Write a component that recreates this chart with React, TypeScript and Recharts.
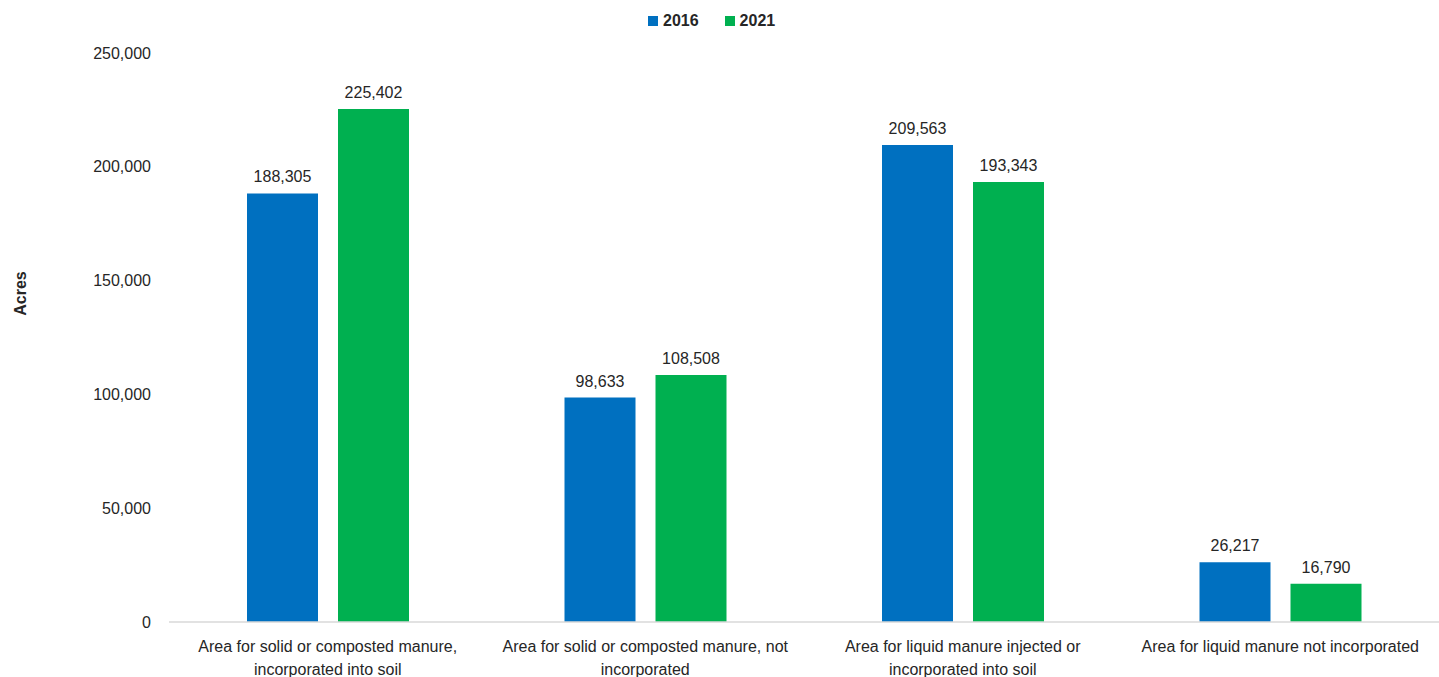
import React from 'react';
import { BarChart, Bar, XAxis, YAxis, Legend, LabelList, Text } from 'recharts';

const categories = [
  'Area for solid or composted manure, incorporated into soil',
  'Area for solid or composted manure, not incorporated',
  'Area for liquid manure injected or incorporated into soil',
  'Area for liquid manure not incorporated',
];
const values2016 = [188305, 98633, 209563, 26217];
const values2021 = [225402, 108508, 193343, 16790];
const yTicks = [0, 50000, 100000, 150000, 200000, 250000];

const data = categories.map((c, i) => ({ name: c, y2016: values2016[i], y2021: values2021[i] }));

const FONT = '"Liberation Sans", Arial, sans-serif';
const TEXT_COLOR = '#262626';
const BLUE = '#0070C0';
const GREEN = '#00B050';

const fmt = (v: number) => v.toLocaleString('en-US');

const CategoryTick = (props: any) => {
  const { x, y, payload } = props;
  return (
    <Text
      x={x}
      y={y}
      width={300}
      textAnchor="middle"
      verticalAnchor="start"
      lineHeight={23}
      style={{ fontSize: 16, fontFamily: FONT }}
      fontSize={16}
      fontFamily={FONT}
      fill={TEXT_COLOR}
    >
      {payload.value}
    </Text>
  );
};

const LegendContent = () => (
  <div style={{ display: 'flex', alignItems: 'center', fontFamily: FONT, fontSize: 16, fontWeight: 'bold', color: TEXT_COLOR }}>
    {[{ label: '2016', color: BLUE }, { label: '2021', color: GREEN }].map((it, i) => (
      <div key={it.label} style={{ display: 'flex', alignItems: 'center', marginRight: i === 0 ? 26 : 0 }}>
        <span style={{ display: 'inline-block', width: 10, height: 10, background: it.color, marginRight: 5 }} />
        <span>{it.label}</span>
      </div>
    ))}
  </div>
);

const YLabel = (props: any) => {
  const { viewBox } = props;
  const cx = 20;
  const cy = viewBox.y + viewBox.height / 2 - 44;
  return (
    <text
      x={cx}
      y={cy}
      transform={`rotate(-90, ${cx}, ${cy})`}
      textAnchor="middle"
      dominantBaseline="central"
      fontSize={16}
      fontWeight="bold"
      fontFamily={FONT}
      fill={TEXT_COLOR}
    >
      Acres
    </text>
  );
};

export default function App() {
  return (
    <div style={{ position: 'fixed', left: 0, top: 0, background: '#fff' }}>
      <BarChart
        width={1439}
        height={677}
        data={data}
        margin={{ top: 53, right: 0, left: 0, bottom: 0 }}
        barSize={71}
        barGap={20}
      >
        <XAxis
          dataKey="name"
          height={55}
          axisLine={{ stroke: '#D9D9D9', strokeWidth: 1.5 }}
          tickLine={false}
          tickMargin={13}
          tick={<CategoryTick />}
          interval={0}
        />
        <YAxis
          width={169}
          domain={[0, 250000]}
          ticks={yTicks}
          axisLine={false}
          tickLine={false}
          tickMargin={12}
          tickFormatter={fmt}
          tick={{ fontSize: 16, fontFamily: FONT, fill: TEXT_COLOR }}
          label={<YLabel />}
        />
        <Legend
          layout="horizontal"
          verticalAlign="middle"
          align="center"
          content={<LegendContent />}
          wrapperStyle={{ top: 12, left: 648, width: 200, height: 20 }}
        />
        <Bar dataKey="y2016" name="2016" fill={BLUE} isAnimationActive={false}>
          <LabelList dataKey="y2016" position="top" offset={11} formatter={(v: any) => fmt(Number(v))} style={{ fontSize: 16, fontFamily: FONT, fill: TEXT_COLOR }} />
        </Bar>
        <Bar dataKey="y2021" name="2021" fill={GREEN} isAnimationActive={false}>
          <LabelList dataKey="y2021" position="top" offset={11} formatter={(v: any) => fmt(Number(v))} style={{ fontSize: 16, fontFamily: FONT, fill: TEXT_COLOR }} />
        </Bar>
      </BarChart>
    </div>
  );
}
